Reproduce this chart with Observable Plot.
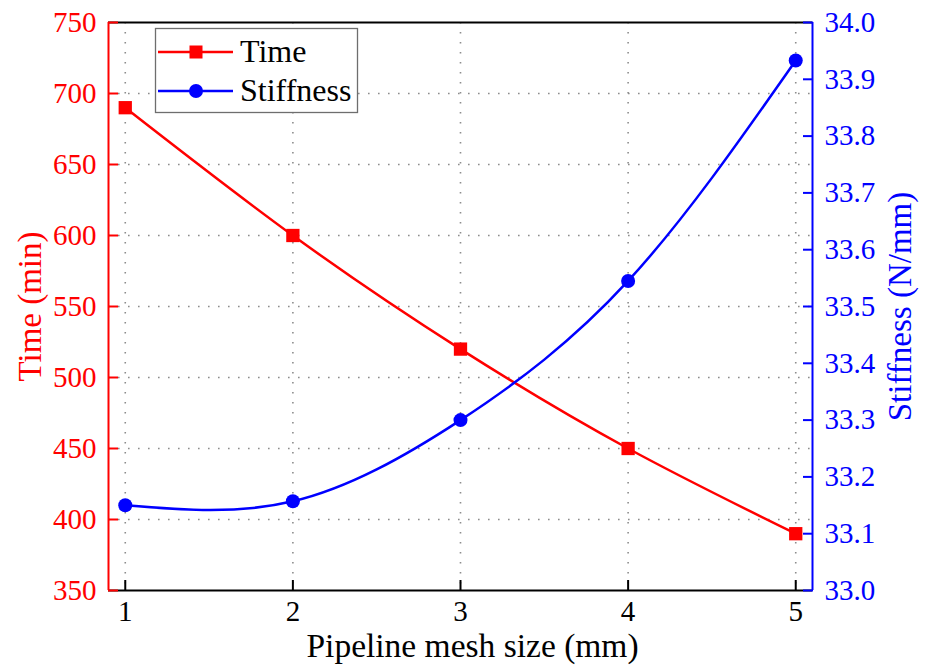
<!DOCTYPE html>
<html>
<head>
<meta charset="utf-8">
<script src="https://cdn.jsdelivr.net/npm/d3@7"></script>
<script src="https://cdn.jsdelivr.net/npm/@observablehq/plot@0.6"></script>
<style>
  html, body { margin: 0; padding: 0; background: white; }
  #chart { position: relative; width: 927px; height: 671px; }
</style>
</head>
<body>
<div id="chart"></div>
<script>
// ---- data ----
const meshSizes = [1, 2, 3, 4, 5];
const timeValues = [690, 600, 520, 450, 390];
const stiffnessValues = [33.15, 33.157, 33.30, 33.545, 33.933];
const xTicks = [1, 2, 3, 4, 5];
const timeTicks = [350, 400, 450, 500, 550, 600, 650, 700, 750];
const stiffnessTicks = [33.0, 33.1, 33.2, 33.3, 33.4, 33.5, 33.6, 33.7, 33.8, 33.9, 34.0];
const seriesNames = ["Time", "Stiffness"];

// stiffness axis [33, 34] shares the pixel range of the time axis [350, 750]
const sToT = s => 350 + (s - 33) * 400;

const timeData = meshSizes.map((x, i) => ({x, y: timeValues[i]}));
const stiffData = meshSizes.map((x, i) => ({x, y: sToT(stiffnessValues[i])}));

const RED = "#ff0000", BLUE = "#0000ff";
const FONT = "Liberation Serif";
const grid = {stroke: "#8c8c8c", strokeOpacity: 1, strokeWidth: 1.6, strokeDasharray: "1.6,8.4"};
const noLabel = () => "";

const plot = Plot.plot({
  width: 927,
  height: 671,
  marginLeft: 108,
  marginRight: 115,
  marginTop: 22,
  marginBottom: 81,
  style: {fontFamily: FONT, fontSize: "29px", background: "white", overflow: "visible"},
  x: {domain: [0.9, 5.1]},
  y: {domain: [350, 750]},
  marks: [
    Plot.gridX(xTicks, grid),
    Plot.gridY(timeTicks.filter(t => t > 350 && t < 750), grid),
    Plot.ruleY([350], {stroke: "black", strokeWidth: 2}),
    Plot.ruleY([750], {stroke: "black", strokeWidth: 2}),
    Plot.ruleX([0.9], {stroke: RED, strokeWidth: 2}),
    Plot.ruleX([5.1], {stroke: BLUE, strokeWidth: 2}),
    // tick marks (inward)
    Plot.axisX(xTicks, {anchor: "bottom", tickSize: -10, strokeWidth: 2, color: "black", label: null, tickFormat: noLabel}),
    Plot.axisY(timeTicks, {anchor: "left", tickSize: -10, strokeWidth: 2, color: RED, label: null, tickFormat: noLabel}),
    Plot.axisY(stiffnessTicks.map(sToT), {anchor: "right", tickSize: -10, strokeWidth: 2, color: BLUE, label: null, tickFormat: noLabel}),
    // tick labels
    Plot.text(xTicks, {x: d => d, text: d => String(d), frameAnchor: "bottom", textAnchor: "middle", lineAnchor: "top",
      dy: 10, fill: "black", fontSize: 29, fontFamily: FONT, fontVariant: "normal"}),
    Plot.text(timeTicks, {y: d => d, text: d => String(d), frameAnchor: "left", textAnchor: "end",
      dx: -12, fill: RED, fontSize: 29, fontFamily: FONT, fontVariant: "normal"}),
    Plot.text(stiffnessTicks, {y: d => sToT(d), text: d => d.toFixed(1), frameAnchor: "right", textAnchor: "start",
      dx: 12, fill: BLUE, fontSize: 29, fontFamily: FONT, fontVariant: "normal"}),
    // axis titles
    Plot.text(["Time (min)"], {frameAnchor: "left", textAnchor: "middle", dx: -78, rotate: -90, fill: RED, fontSize: 33, fontFamily: FONT}),
    Plot.text(["Stiffness (N/mm)"], {frameAnchor: "right", textAnchor: "middle", dx: 88, rotate: -90, fill: BLUE, fontSize: 33, fontFamily: FONT}),
    Plot.text(["Pipeline mesh size (mm)"], {frameAnchor: "bottom", textAnchor: "middle", dy: 66, dx: 12, fill: "black", fontSize: 33.5, fontFamily: FONT}),
    // series
    Plot.line(timeData, {x: "x", y: "y", stroke: RED, strokeWidth: 2.5, curve: "natural"}),
    Plot.line(stiffData, {x: "x", y: "y", stroke: BLUE, strokeWidth: 2.5, curve: "natural"}),
    Plot.dot(timeData, {x: "x", y: "y", symbol: "square", r: 7.5, fill: RED, stroke: null}),
    Plot.dot(stiffData, {x: "x", y: "y", symbol: "circle", r: 7, fill: BLUE, stroke: null})
  ]
});
document.getElementById("chart").appendChild(plot);

// ---- legend (inside the plot area, top-left) ----
const svg = d3.select(plot);
const lg = svg.append("g").attr("class", "legend").attr("text-anchor", "start");
lg.append("rect").attr("x", 155.5).attr("y", 28.5).attr("width", 202).attr("height", 84)
  .attr("fill", "white").attr("stroke", "#6e6e6e").attr("stroke-width", 1.3);
const entries = [
  {name: seriesNames[0], color: RED, sym: "square", cy: 52},
  {name: seriesNames[1], color: BLUE, sym: "circle", cy: 91}
];
for (const e of entries) {
  lg.append("line").attr("x1", 158).attr("x2", 233).attr("y1", e.cy).attr("y2", e.cy)
    .attr("stroke", e.color).attr("stroke-width", 2.5);
  if (e.sym === "square") {
    lg.append("rect").attr("x", 189.5).attr("y", e.cy - 6.5).attr("width", 13).attr("height", 13).attr("fill", e.color);
  } else {
    lg.append("circle").attr("cx", 196).attr("cy", e.cy).attr("r", 7).attr("fill", e.color);
  }
  lg.append("text").attr("x", 240).attr("y", e.cy + 10).attr("fill", "black").attr("text-anchor", "start")
    .attr("font-size", 32).attr("font-family", FONT).text(e.name);
}
</script>
</body>
</html>
